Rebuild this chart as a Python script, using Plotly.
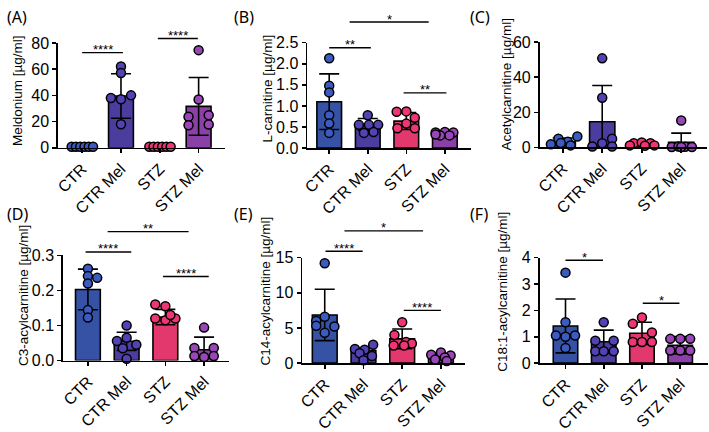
import plotly.graph_objects as go

W, H = 709, 432

categories = ["CTR", "CTR Mel", "STZ", "STZ Mel"]

# ---------------- data ----------------
A_mean = [0.8, 39.5, 0.8, 31.6]
A_sd = [0.3, 17.0, 0.3, 22.0]
A_pts = [[0.8, 0.8, 0.8, 0.8, 0.8, 0.8],
         [62, 57, 38, 40, 37, 18],
         [0.8, 0.8, 0.8, 0.8, 0.8, 0.8],
         [74.5, 36.9, 23.7, 24.9, 17.2, 17.7]]
A_ticks = [0, 20, 40, 60, 80]
A_sig = [(0.0, 1.05, 72.6, "****"), (1.95, 2.98, 83.4, "****")]

B_mean = [1.10, 0.56, 0.64, 0.35]
B_sd = [0.66, 0.14, 0.20, 0.04]
B_pts = [[2.13, 1.48, 1.32, 0.78, 0.58, 0.36],
         [0.78, 0.55, 0.55, 0.55, 0.36, 0.38],
         [0.86, 0.87, 0.72, 0.58, 0.47, 0.47],
         [0.37, 0.38, 0.37, 0.30, 0.30, 0.32]]
B_ticks = [0, 0.5, 1.0, 1.5, 2.0, 2.5]
B_sig = [(0.0, 1.08, 2.38, "**"), (0.53, 2.58, 2.99, "*"), (1.93, 3.04, 1.31, "**")]

C_mean = [3.4, 14.6, 2.0, 2.9]
C_sd = [2.0, 20.7, 0.8, 5.3]
C_pts = [[1.8, 5.0, 3.2, 6.3, 1.2, 2.5],
         [50.7, 28.3, 5.0, 2.4, 0.6, 0.6],
         [2.4, 2.8, 2.4, 1.2, 1.0, 1.2],
         [15.4, 0.3, 0.5, 0.4, 0.3, 0.3]]
C_ticks = [0, 20, 40, 60]
C_sig = []

D_mean = [0.203, 0.055, 0.124, 0.031]
D_sd = [0.058, 0.026, 0.022, 0.036]
D_pts = [[0.262, 0.241, 0.236, 0.22, 0.144, 0.123],
         [0.10, 0.056, 0.065, 0.045, 0.035, 0.005],
         [0.16, 0.155, 0.12, 0.115, 0.12, 0.13],
         [0.094, 0.036, 0.036, 0.013, 0.013, 0.01]]
D_ticks = [0, 0.1, 0.2, 0.3]
D_sig = [(-0.06, 1.12, 0.31, "****"), (0.51, 2.6, 0.368, "**"), (1.94, 3.12, 0.24, "****")]

E_mean = [6.85, 1.8, 3.45, 0.9]
E_sd = [3.65, 0.35, 1.4, 0.4]
E_pts = [[14.2, 6.6, 6.0, 5.2, 5.3, 4.3],
         [2.6, 2.0, 1.9, 1.4, 1.0, 0.4],
         [5.8, 4.0, 3.0, 2.8, 2.5, 2.5],
         [1.5, 1.2, 1.1, 0.8, 0.5, 0.3]]
E_ticks = [0, 5, 10, 15]
E_sig = [(0.02, 0.98, 15.9, "****"), (0.51, 2.54, 18.8, "*"), (2.04, 3.0, 7.5, "****")]

F_mean = [1.41, 0.81, 1.13, 0.68]
F_sd = [1.02, 0.44, 0.42, 0.33]
F_pts = [[3.43, 1.55, 1.05, 1.05, 1.0, 0.57],
         [1.55, 0.85, 0.85, 0.45, 0.45, 0.45],
         [1.73, 1.49, 1.16, 0.8, 0.8, 0.8],
         [0.92, 0.92, 0.92, 0.48, 0.48, 0.48]]
F_ticks = [0, 1, 2, 3, 4]
F_sig = [(0.0, 0.98, 3.9, "*"), (2.02, 2.98, 2.27, "*")]

titles = ["Meldonium [µg/ml]", "L-carnitine [µg/ml]", "Acetylcarnitine [µg/ml]",
          "C3-acylcarnitine [µg/ml]", "C14-acylcarnitine [µg/ml]", "C18:1-acylcarnitine [µg/ml]"]
labels = ["(A)", "(B)", "(C)", "(D)", "(E)", "(F)"]

# ---------------- styling / layout (positions in px) ----------------
bar_colors = ["#3552A5", "#4B3D9E", "#E2386E", "#8B40A8"]
pt_colors = ["#3B5BC2", "#5143B3", "#EE3676", "#9946B8"]

# horizontal spread of the dots inside each group (category units)
A_jit = [[-0.27, -0.16, -0.05, 0.06, 0.17, 0.28], [0, 0, -0.26, 0.26, 0, 0],
         [-0.27, -0.16, -0.05, 0.06, 0.17, 0.28], [0, 0, -0.26, 0.26, -0.26, 0.26]]
B_jit = [[0, 0, 0, 0, 0, 0], [0, -0.23, 0.03, 0.27, -0.1, 0.15],
         [-0.25, 0, 0.22, 0, -0.23, 0.22], [-0.24, 0, 0.22, -0.12, 0.12, -0.24]]
C_jit = [[-0.3, -0.11, 0.13, 0.37, 0.2, -0.05], [0, 0, 0.25, 0, -0.25, 0.25],
         [-0.2, 0, 0.22, -0.3, 0.08, 0.32], [0, -0.24, -0.07, 0.1, 0.27, 0.0]]
D_jit = [[0, 0, 0.24, 0, 0, 0], [0, -0.25, 0, 0.25, -0.1, 0],
         [-0.26, 0, -0.26, 0, 0.26, 0.13], [0, -0.25, 0.25, -0.25, 0.25, 0]]
E_jit = [[0, 0, -0.22, 0.25, -0.22, 0], [0.25, -0.22, 0.03, -0.1, 0.22, 0],
         [0, -0.2, 0.1, 0.25, -0.22, 0.05], [0, -0.25, 0.25, 0.1, -0.15, 0.15]]
F_jit = [[0, 0, -0.25, 0.25, 0, 0], [0, -0.22, 0.26, -0.22, 0, 0.26],
         [0, -0.24, 0.26, -0.24, 0, 0.26], [-0.26, 0, 0.26, -0.26, 0, 0.26]]

# (left px, right px, top px, bottom px, x-range, tickformat, title center x,y, label x,y)
geo = [
    (53.3, 221.7, 37.0, 148.0, [-0.624, 3.683], "d", 12, 87, 0, 10),
    (304.3, 469.0, 36.7, 148.3, [-0.572, 3.670], ".1f", 264, 85, 229, 10),
    (538.3, 707.0, 36.0, 147.7, [-0.588, 3.653], "d", 505.5, 81, 466, 10),
    (58.3, 226.0, 262.0, 373.3, [-0.646, 3.654], ".1f", 18, 304, 0, 218),
    (299.3, 463.7, 264.3, 376.0, [-0.582, 3.633], "d", 262, 300, 229, 218),
    (538.3, 708.0, 264.3, 376.0, [-0.680, 3.727], "d", 501, 300, 466, 218),
]

panels = [
    (A_mean, A_sd, A_pts, A_jit, A_ticks, A_sig),
    (B_mean, B_sd, B_pts, B_jit, B_ticks, B_sig),
    (C_mean, C_sd, C_pts, C_jit, C_ticks, C_sig),
    (D_mean, D_sd, D_pts, D_jit, D_ticks, D_sig),
    (E_mean, E_sd, E_pts, E_jit, E_ticks, E_sig),
    (F_mean, F_sd, F_pts, F_jit, F_ticks, F_sig),
]

FONT = "Liberation Sans, Arial, sans-serif"
LW = 1.6

fig = go.Figure()
layout = dict(width=W, height=H, margin=dict(l=0, r=0, t=0, b=0),
              paper_bgcolor="white", plot_bgcolor="white", showlegend=False,
              font=dict(family=FONT, color="black"))
shapes = []
annotations = []

for i, (mean, sd, pts, jit, ticks, sig) in enumerate(panels):
    n = i + 1
    xa = "x" if n == 1 else f"x{n}"
    ya = "y" if n == 1 else f"y{n}"
    L, R, T, B, xr, tf, tcx, tcy, lx, ly = geo[i]
    top = ticks[-1]

    fig.add_trace(go.Bar(
        x=[0, 1, 2, 3], y=mean, width=0.64,
        marker=dict(color=bar_colors, line=dict(color="black", width=LW)),
        error_y=dict(type="data", array=sd, symmetric=True, color="black",
                     thickness=LW, width=10),
        cliponaxis=False, xaxis=xa, yaxis=ya, hoverinfo="skip"))
    for g in range(4):
        fig.add_trace(go.Scatter(
            x=[g + o for o in jit[g]], y=pts[g], mode="markers",
            marker=dict(size=9, color=pt_colors[g], line=dict(color="black", width=1.5)),
            cliponaxis=False, xaxis=xa, yaxis=ya, hoverinfo="skip"))

    layout["xaxis" if n == 1 else f"xaxis{n}"] = dict(
        domain=[L / W, R / W], range=xr, anchor=ya,
        tickmode="array", tickvals=[0, 1, 2, 3], ticktext=categories, tickangle=-45,
        showline=True, linecolor="black", linewidth=LW,
        ticks="outside", ticklen=4, tickwidth=LW, tickcolor="black",
        showgrid=False, zeroline=False, fixedrange=True,
        tickfont=dict(family=FONT, size=16, color="black"))
    layout["yaxis" if n == 1 else f"yaxis{n}"] = dict(
        domain=[1 - B / H, 1 - T / H], range=[0, top], anchor=xa,
        tickmode="array", tickvals=ticks, tickformat=tf,
        showline=True, linecolor="black", linewidth=LW,
        ticks="outside", ticklen=4, tickwidth=LW, tickcolor="black",
        showgrid=False, zeroline=False, fixedrange=True,
        tickfont=dict(family=FONT, size=16, color="black"))

    for (x0, x1, yv, txt) in sig:
        f = yv / top
        shapes.append(dict(type="line", xref=xa, yref=f"{ya} domain",
                           x0=x0, x1=x1, y0=f, y1=f,
                           line=dict(color="black", width=1.4)))
        annotations.append(dict(text=txt, xref=xa, yref=f"{ya} domain",
                                x=(x0 + x1) / 2, y=f, xanchor="center", yanchor="middle",
                                yshift=3, showarrow=False,
                                font=dict(family=FONT, size=13, color="black")))

    annotations.append(dict(text=titles[i], xref="paper", yref="paper",
                            x=tcx / W, y=1 - tcy / H, textangle=-90,
                            xanchor="center", yanchor="middle", showarrow=False,
                            font=dict(family=FONT, size=13.5, color="black")))
    annotations.append(dict(text=labels[i], xref="paper", yref="paper",
                            x=lx / W, y=1 - ly / H, xanchor="left", yanchor="middle",
                            showarrow=False,
                            font=dict(family="Noto Sans, sans-serif", size=16, color="black")))

layout["shapes"] = shapes
layout["annotations"] = annotations
fig.update_layout(**layout)
fig.write_html("out.html", config={"displayModeBar": False, "staticPlot": True},
               post_script="document.body.style.margin='0';document.body.style.overflow='hidden';")
